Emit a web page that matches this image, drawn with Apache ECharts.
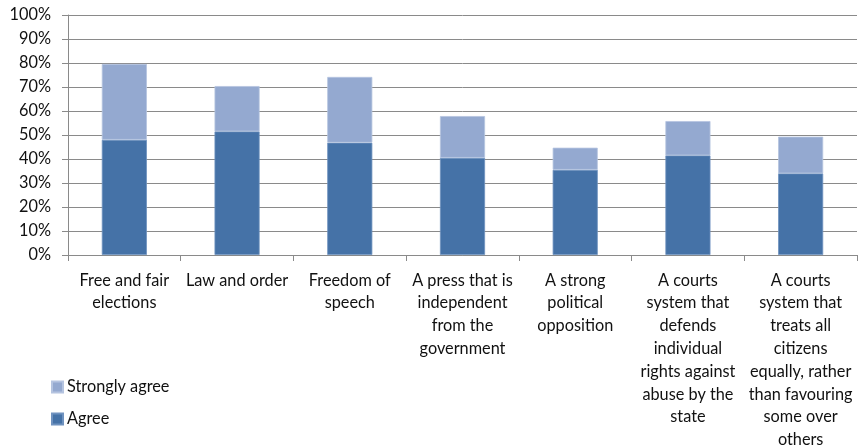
<!DOCTYPE html>
<html>
<head>
<meta charset="utf-8">
<script src="https://cdn.jsdelivr.net/npm/echarts@6/dist/echarts.min.js"></script>
<style>
  html, body { margin: 0; padding: 0; background: #fff; }
  #chart { width: 858px; height: 445px; }
</style>
</head>
<body>
<div id="chart"></div>
<script>
// Category labels, wrapped the way they appear under each bar
const categories = [
  'Free and fair\nelections',
  'Law and order',
  'Freedom of\nspeech',
  'A press that is\nindependent\nfrom the\ngovernment',
  'A strong\npolitical\nopposition',
  'A courts\nsystem that\ndefends\nindividual\nrights against\nabuse by the\nstate',
  'A courts\nsystem that\ntreats all\ncitizens\nequally, rather\nthan favouring\nsome over\nothers'
];

// Share of respondents (%)
const agree = [48.0, 51.5, 46.8, 40.5, 35.5, 41.5, 34.0];
const stronglyAgree = [31.6, 18.9, 27.4, 17.4, 9.2, 14.3, 15.3];

const yTicks = { min: 0, max: 100, interval: 10 };

const FONT = 'Lato, "Open Sans", sans-serif';
const FONT_SIZE = 16.3;
const TEXT = '#111';
const GRID_GRAY = '#8a8a8a';

const chart = echarts.init(document.getElementById('chart'), null, { renderer: 'canvas' });

chart.setOption({
  animation: false,
  backgroundColor: '#fff',
  textStyle: { fontFamily: FONT, color: TEXT },
  // fixed plot box; the tall wrapped labels may run to the bottom edge
  grid: { left: 68, right: 1, top: 15, bottom: 190, containLabel: false, outerBoundsMode: 'none' },
  legend: {
    orient: 'vertical',
    left: 51,
    top: 379,
    padding: 0,
    itemWidth: 11,
    itemHeight: 11,
    itemGap: 16,
    icon: 'rect',
    data: ['Strongly agree', 'Agree'],
    textStyle: { fontFamily: FONT, fontSize: FONT_SIZE, color: TEXT, padding: [0, 0, 0, -1] }
  },
  xAxis: {
    type: 'category',
    data: categories,
    axisLine: { show: true, lineStyle: { color: GRID_GRAY, width: 1 } },
    axisTick: { show: true, length: 6, alignWithLabel: false, lineStyle: { color: GRID_GRAY } },
    axisLabel: {
      interval: 0,
      margin: 14,
      fontFamily: FONT,
      fontSize: FONT_SIZE,
      lineHeight: 22.8,
      color: TEXT,
      align: 'center'
    },
    splitLine: { show: false }
  },
  yAxis: {
    type: 'value',
    min: yTicks.min,
    max: yTicks.max,
    interval: yTicks.interval,
    axisLine: { show: true, lineStyle: { color: GRID_GRAY, width: 1 } },
    axisTick: { show: true, length: 6, inside: false, lineStyle: { color: GRID_GRAY } },
    axisLabel: {
      formatter: '{value}%',
      margin: 17,
      fontFamily: FONT,
      fontSize: FONT_SIZE,
      color: TEXT
    },
    splitLine: { show: true, lineStyle: { color: GRID_GRAY, width: 1 } }
  },
  series: [
    {
      name: 'Agree',
      type: 'bar',
      stack: 'total',
      data: agree,
      barWidth: '40%',
      itemStyle: { color: '#4572a7', borderColor: '#6f92bf', borderWidth: 0.8 }
    },
    {
      name: 'Strongly agree',
      type: 'bar',
      stack: 'total',
      data: stronglyAgree,
      barWidth: '40%',
      itemStyle: { color: '#94a9d0', borderColor: '#b5c4e0', borderWidth: 0.8 }
    }
  ]
});
</script>
</body>
</html>
